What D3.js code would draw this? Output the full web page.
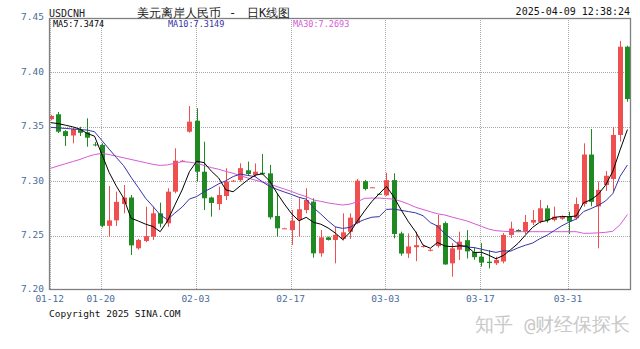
<!DOCTYPE html>
<html>
<head>
<meta charset="utf-8">
<script src="https://cdn.jsdelivr.net/npm/d3@7"></script>
<style>
  body { margin: 0; background: #fff; }
  svg { display: block; }
  text { font-family: "DejaVu Sans Mono", monospace; }
</style>
</head>
<body>
<svg id="chart" width="640" height="349"></svg>
<script>
// 1: DATA (daily candles)
const opens = [7.3570, 7.3615, 7.3460, 7.3420, 7.3470, 7.3450, 7.3338, 7.3333, 7.2590, 7.2640,
  7.2790, 7.2850, 7.2383, 7.2450, 7.2490, 7.2705, 7.2613, 7.2904, 7.3186, 7.3455,
  7.3556, 7.3087, 7.2850, 7.2790, 7.2864, 7.3000, 7.3010, 7.3100, 7.3057, 7.3078,
  7.3072, 7.2680, 7.2566, 7.2551, 7.2643, 7.2735, 7.2812, 7.2337, 7.2484, 7.2460,
  7.2470, 7.2535, 7.2615, 7.3000, 7.2942, 7.2885, 7.2870, 7.3010, 7.2520, 7.2335,
  7.2393, 7.2398, 7.2362, 7.2404, 7.2615, 7.2245, 7.2370, 7.2458, 7.2350, 7.2306,
  7.2260, 7.2246, 7.2262, 7.2506, 7.2552, 7.2535, 7.2620, 7.2628, 7.2750, 7.2643,
  7.2655, 7.2672, 7.2660, 7.2790, 7.3245, 7.2768, 7.2965, 7.3020, 7.3425, 7.4236];
const highs = [7.3610, 7.3636, 7.3470, 7.3490, 7.3500, 7.3578, 7.3360, 7.3350, 7.2956, 7.2904,
  7.2965, 7.2873, 7.2470, 7.2766, 7.2766, 7.2803, 7.2935, 7.3302, 7.3195, 7.3691,
  7.3670, 7.3363, 7.2858, 7.2950, 7.3119, 7.3010, 7.3164, 7.3180, 7.3164, 7.3250,
  7.3150, 7.2889, 7.2572, 7.2735, 7.2843, 7.2935, 7.2843, 7.2551, 7.2490, 7.2582,
  7.2705, 7.2705, 7.3020, 7.3012, 7.2946, 7.2890, 7.3078, 7.3073, 7.2536, 7.2520,
  7.2536, 7.2415, 7.2380, 7.2690, 7.2630, 7.2430, 7.2536, 7.2550, 7.2392, 7.2430,
  7.2368, 7.2306, 7.2523, 7.2628, 7.2558, 7.2690, 7.2735, 7.2827, 7.2780, 7.2766,
  7.2685, 7.2720, 7.2850, 7.3348, 7.3480, 7.2996, 7.3094, 7.3500, 7.4290, 7.4245];
const lows = [7.3560, 7.3443, 7.3324, 7.3348, 7.3415, 7.3317, 7.3320, 7.2576, 7.2490, 7.2588,
  7.2705, 7.2322, 7.2370, 7.2440, 7.2460, 7.2576, 7.2580, 7.2889, 7.3180, 7.3446,
  7.2996, 7.2735, 7.2674, 7.2735, 7.2827, 7.2995, 7.2996, 7.3055, 7.3040, 7.3057,
  7.2650, 7.2490, 7.2562, 7.2414, 7.2490, 7.2705, 7.2297, 7.2306, 7.2455, 7.2245,
  7.2455, 7.2470, 7.2605, 7.2915, 7.2940, 7.2878, 7.2865, 7.2475, 7.2315, 7.2295,
  7.2265, 7.2390, 7.2355, 7.2390, 7.2232, 7.2122, 7.2276, 7.2290, 7.2278, 7.2215,
  7.2198, 7.2230, 7.2245, 7.2478, 7.2532, 7.2515, 7.2598, 7.2613, 7.2620, 7.2630,
  7.2645, 7.2515, 7.2645, 7.2766, 7.2770, 7.2383, 7.2910, 7.2905, 7.3365, 7.3730];
const closes = [7.3600, 7.3455, 7.3415, 7.3480, 7.3445, 7.3400, 7.3330, 7.2590, 7.2640, 7.2810,
  7.2850, 7.2410, 7.2460, 7.2495, 7.2705, 7.2610, 7.2904, 7.3188, 7.3188, 7.3547,
  7.3087, 7.2843, 7.2800, 7.2873, 7.2996, 7.3005, 7.3120, 7.3066, 7.3087, 7.3064,
  7.2668, 7.2567, 7.2567, 7.2637, 7.2742, 7.2827, 7.2337, 7.2484, 7.2460, 7.2506,
  7.2530, 7.2665, 7.3005, 7.2928, 7.2944, 7.2880, 7.3010, 7.2515, 7.2335, 7.2400,
  7.2412, 7.2404, 7.2370, 7.2597, 7.2235, 7.2383, 7.2444, 7.2355, 7.2302, 7.2252,
  7.2248, 7.2277, 7.2506, 7.2565, 7.2537, 7.2625, 7.2643, 7.2751, 7.2640, 7.2674,
  7.2672, 7.2630, 7.2790, 7.3245, 7.2810, 7.2920, 7.3050, 7.3425, 7.4236, 7.3755];

// moving average lines as drawn
const ma5 = [7.3538, 7.3530, 7.3515, 7.3500, 7.3479, 7.3439, 7.3414, 7.3249, 7.3081, 7.2954,
  7.2844, 7.2660, 7.2634, 7.2605, 7.2584, 7.2536, 7.2635, 7.2780, 7.2919, 7.3087,
  7.3183, 7.3171, 7.3093, 7.3030, 7.2920, 7.2903, 7.2959, 7.3012, 7.3055, 7.3068,
  7.3001, 7.2890, 7.2791, 7.2701, 7.2636, 7.2668, 7.2622, 7.2605, 7.2570, 7.2523,
  7.2463, 7.2529, 7.2633, 7.2727, 7.2814, 7.2884, 7.2953, 7.2855, 7.2737, 7.2628,
  7.2534, 7.2413, 7.2384, 7.2437, 7.2404, 7.2398, 7.2406, 7.2403, 7.2344, 7.2347,
  7.2320, 7.2287, 7.2317, 7.2370, 7.2427, 7.2502, 7.2575, 7.2624, 7.2639, 7.2667,
  7.2676, 7.2673, 7.2681, 7.2802, 7.2829, 7.2879, 7.2963, 7.3090, 7.3288, 7.3474];
const ma10 = [7.3495, 7.3490, 7.3485, 7.3480, 7.3475, 7.3470, 7.3455, 7.3375, 7.3295, 7.3217,
  7.3142, 7.3037, 7.2942, 7.2843, 7.2769, 7.2690, 7.2647, 7.2707, 7.2762, 7.2836,
  7.2859, 7.2903, 7.2937, 7.2975, 7.3004, 7.3043, 7.3065, 7.3053, 7.3042, 7.2994,
  7.2952, 7.2925, 7.2901, 7.2878, 7.2852, 7.2835, 7.2756, 7.2698, 7.2635, 7.2580,
  7.2566, 7.2576, 7.2619, 7.2648, 7.2669, 7.2674, 7.2741, 7.2744, 7.2732, 7.2721,
  7.2709, 7.2683, 7.2620, 7.2587, 7.2516, 7.2466, 7.2410, 7.2394, 7.2390, 7.2375,
  7.2359, 7.2346, 7.2360, 7.2357, 7.2387, 7.2411, 7.2431, 7.2471, 7.2504, 7.2547,
  7.2589, 7.2624, 7.2653, 7.2721, 7.2748, 7.2778, 7.2818, 7.2886, 7.3045, 7.3149];
const ma30 = [7.3119, 7.3140, 7.3160, 7.3180, 7.3200, 7.3225, 7.3245, 7.3256, 7.3245, 7.3230,
  7.3215, 7.3200, 7.3185, 7.3170, 7.3155, 7.3145, 7.3150, 7.3165, 7.3180, 7.3175,
  7.3164, 7.3145, 7.3125, 7.3110, 7.3090, 7.3073, 7.3050, 7.3030, 7.3010, 7.2992,
  7.2975, 7.2950, 7.2928, 7.2905, 7.2880, 7.2858, 7.2827, 7.2815, 7.2800, 7.2790,
  7.2781, 7.2790, 7.2810, 7.2843, 7.2845, 7.2845, 7.2840, 7.2835, 7.2815, 7.2790,
  7.2760, 7.2740, 7.2720, 7.2700, 7.2689, 7.2670, 7.2652, 7.2635, 7.2610, 7.2585,
  7.2560, 7.2545, 7.2540, 7.2536, 7.2536, 7.2536, 7.2536, 7.2536, 7.2536, 7.2536,
  7.2536, 7.2536, 7.2536, 7.2521, 7.2522, 7.2525, 7.2530, 7.2540, 7.2600, 7.2693];

const tickLabels = ["01-12", "01-20", "02-03", "02-17", "03-03", "03-17", "03-31"];
const tickIndex = [0, 7, 20, 33, 46, 59, 71];
const yTicks = [7.20, 7.25, 7.30, 7.35, 7.40, 7.45];
const maNames = ["MA5:7.3474", "MA10:7.3149", "MA30:7.2693"];
const titleParts = ["美元离岸人民币", "-", "日K线图"];

// 2: LAYOUT
const margin = { top: 18, right: 9, bottom: 59, left: 49 };
const width = 640 - margin.left - margin.right;
const height = 349 - margin.top - margin.bottom;

const RED = "#f04f4f", GREEN = "#1f8a22";
const maColors = ["#000000", "#3535a5", "#d65ad6"];
const labelBlue = "#4a6d9c";

const svg = d3.select("#chart");
const g = svg.append("g").attr("transform", `translate(${margin.left},${margin.top})`);

// 3: SCALES
const x = d3.scaleLinear().domain([0, 79]).range([1.7, 578.4]);
const y = d3.scaleLinear().domain([7.20, 7.45]).range([height, 0]);

// 4: GRID
g.selectAll(".hgrid")
  .data(yTicks.slice(1, -1))
  .join("line")
  .attr("x1", 0).attr("x2", width)
  .attr("y1", d => Math.round(y(d)) + 0.5).attr("y2", d => Math.round(y(d)) + 0.5)
  .attr("stroke", "#a8a8a8").attr("stroke-dasharray", "1,1");

g.selectAll(".vgrid")
  .data(tickIndex)
  .join("line")
  .attr("x1", d => Math.round(x(d) - 1) + 0.5).attr("x2", d => Math.round(x(d) - 1) + 0.5)
  .attr("y1", 0).attr("y2", height)
  .attr("stroke", "#a8a8a8").attr("stroke-dasharray", "1,1");

// 5: CANDLES
svg.append("defs").append("clipPath").attr("id", "plotClip")
  .append("rect").attr("width", width).attr("height", height);

const candles = g.append("g").attr("clip-path", "url(#plotClip)");
const idx = d3.range(closes.length);
const col = i => closes[i] >= opens[i] ? RED : GREEN;

candles.selectAll(".wick")
  .data(idx)
  .join("line")
  .attr("x1", i => Math.round(x(i)) + 0.5).attr("x2", i => Math.round(x(i)) + 0.5)
  .attr("y1", i => y(highs[i])).attr("y2", i => y(lows[i]))
  .attr("stroke", col).attr("stroke-width", 1);

candles.selectAll(".body")
  .data(idx)
  .join("rect")
  .attr("x", i => Math.round(x(i)) - 2)
  .attr("width", 5)
  .attr("y", i => y(Math.max(opens[i], closes[i])))
  .attr("height", i => Math.max(1, Math.abs(y(opens[i]) - y(closes[i]))))
  .attr("fill", col);

// 6: MOVING AVERAGES
const line = d3.line().x((d, i) => x(i)).y(d => y(d));
[ma30, ma10, ma5].forEach((s, k) => {
  candles.append("path")
    .datum(s)
    .attr("fill", "none")
    .attr("stroke", maColors[2 - k])
    .attr("stroke-width", 1)
    .attr("d", line);
});

// frame
g.append("rect")
  .attr("x", 0.5).attr("y", 0.5)
  .attr("width", width - 1).attr("height", height - 1)
  .attr("fill", "none").attr("stroke", "#808080").attr("stroke-width", 1.3);

// 7: AXIS LABELS
svg.selectAll(".ylab")
  .data(yTicks)
  .join("text")
  .attr("x", 44)
  .attr("y", d => margin.top + y(d) - 1)
  .attr("dy", "0.35em")
  .attr("text-anchor", "end")
  .attr("font-size", 9.5)
  .attr("fill", labelBlue)
  .text(d => d.toFixed(2));

svg.selectAll(".xlab")
  .data(tickLabels)
  .join("text")
  .attr("x", (d, i) => margin.left + x(tickIndex[i]) - 1)
  .attr("y", 302)
  .attr("text-anchor", "middle")
  .attr("font-size", 9.5)
  .attr("fill", labelBlue)
  .text(d => d);

// 8: TITLES
svg.append("text")
  .attr("x", 49).attr("y", 17)
  .attr("font-family", "Liberation Serif, serif")
  .attr("font-size", 10)
  .attr("fill", "#222")
  .text("USDCNH");

svg.selectAll(".title")
  .data(titleParts)
  .join("text")
  .attr("x", (d, i) => [137, 229, 247][i])
  .attr("y", 17)
  .attr("font-family", "Noto Sans CJK SC, sans-serif")
  .attr("font-size", 12)
  .attr("fill", "#222")
  .text(d => d);

svg.append("text")
  .attr("x", 630).attr("y", 15)
  .attr("text-anchor", "end")
  .attr("font-size", 10)
  .attr("fill", "#111")
  .text("2025-04-09 12:38:24");

svg.selectAll(".malab")
  .data(maNames)
  .join("text")
  .attr("x", (d, i) => [53, 168, 293][i])
  .attr("y", 26.5)
  .attr("font-size", 8.5)
  .attr("fill", (d, i) => maColors[i])
  .text(d => d);

svg.append("text")
  .attr("x", 49).attr("y", 317)
  .attr("font-size", 9.5)
  .attr("fill", "#111")
  .text("Copyright 2025 SINA.COM");

svg.append("text")
  .attr("x", 475).attr("y", 331)
  .attr("font-family", "Noto Sans CJK SC, sans-serif")
  .attr("font-size", 18.5)
  .attr("fill", "#c8c8c8")
  .text("知乎 @财经保探长");
</script>
</body>
</html>
